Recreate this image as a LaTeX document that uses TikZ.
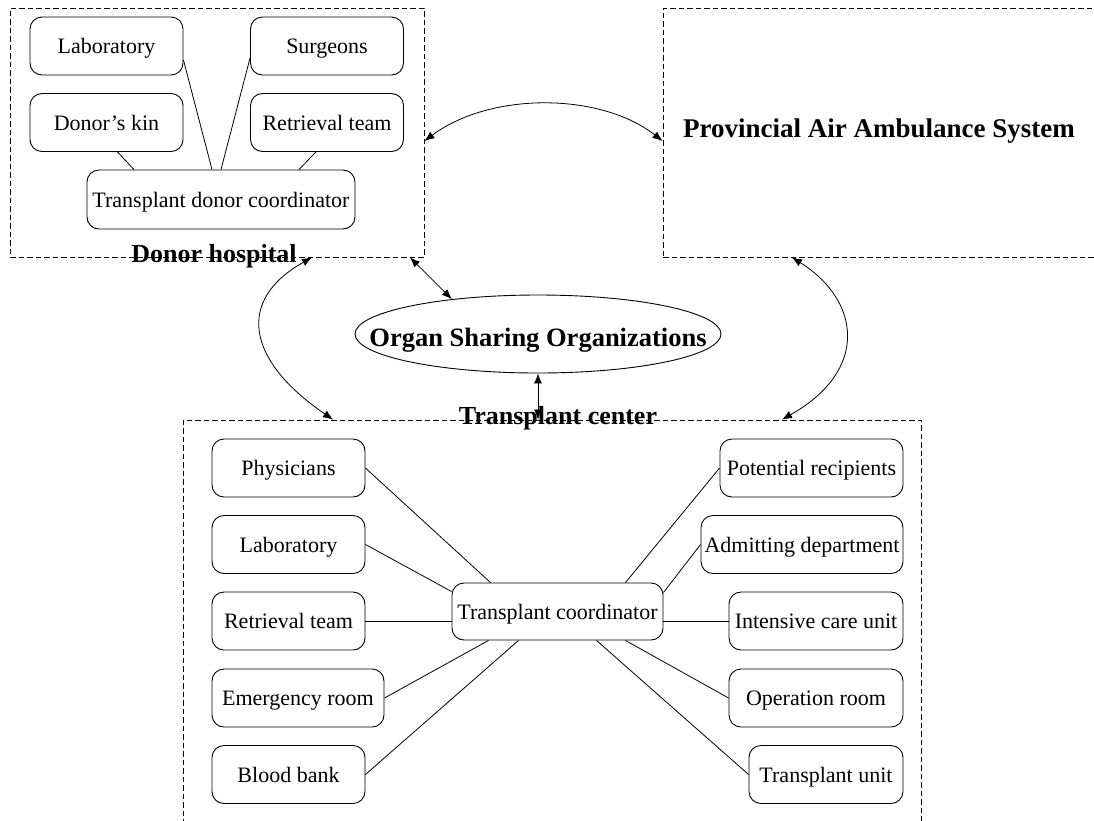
\documentclass[tikz,border=0pt]{standalone}
\usepackage{fontspec}
\setmainfont{Liberation Serif}
\usetikzlibrary{shapes.geometric,arrows.meta}
\begin{document}
\begin{tikzpicture}[x=1pt,y=-1pt,
  unit/.style={draw, line width=0.9pt, rounded corners=12pt, minimum width=153pt,
    minimum height=58pt, inner sep=1pt, text height=15pt, text depth=0pt,
    font=\fontsize{22}{25}\selectfont},
  group/.style={draw, line width=0.9pt, dash pattern=on 5.5pt off 3pt, inner sep=0pt},
  grouplabel/.style={inner sep=0pt, font=\bfseries\fontsize{26}{29}\selectfont},
  link/.style={line width=0.8pt},
  bothway/.style={line width=0.8pt, {Latex[length=10pt,width=8pt]}-{Latex[length=10pt,width=8pt]}},
]
\useasboundingbox (0,0) rectangle (1094,820);
\clip (0,0) rectangle (1094,820);

% Donor hospital
\node[group, minimum width=414pt, minimum height=249pt] (donor) at (217,132.5) {};
\node[grouplabel, anchor=base] (donorlbl) at (214,262) {Donor hospital};
\node[unit] (dlab) at (106.5,46) {Laboratory};
\node[unit] (dsurg) at (327,46) {Surgeons};
\node[unit] (dkin) at (106.5,122.5) {Donor’s kin};
\node[unit] (dret) at (327,122.5) {Retrieval team};
\node[unit, minimum width=268pt, minimum height=59pt] (tdc) at (221,199.5) {Transplant donor coordinator};

\draw[link] ([yshift=-14pt]dlab.east) -- ([xshift=-9pt]tdc.north);
\draw[link] ([yshift=-12pt]dsurg.west) -- (tdc.north);
\draw[link] ([xshift=11pt]dkin.south) -- ([xshift=-87pt]tdc.north);
\draw[link] ([xshift=-11pt]dret.south) -- ([xshift=78pt]tdc.north);

% Provincial Air Ambulance System
\node[group, minimum width=447pt, minimum height=249pt] (air) at (886.5,132.5) {};
\node[grouplabel, font=\bfseries\fontsize{27}{30}\selectfont, anchor=base] (airlbl) at (879,137) {Provincial Air Ambulance System};

% Organ Sharing Organizations
\node[draw, ellipse, line width=0.9pt, minimum width=366pt, minimum height=78pt, inner sep=0pt] (osc) at (538,334) {};
\node[grouplabel, font=\bfseries\fontsize{26.5}{30}\selectfont, anchor=base] (osclbl) at (538,346) {Organ Sharing Organizations};

% Transplant center
\node[group, minimum width=738pt, minimum height=420pt] (tcbox) at (552,630) {};
\node[grouplabel, anchor=base] (tclbl) at (558,424) {Transplant center};
\node[unit, minimum width=211pt, minimum height=57pt] (tc) at (557.5,611.5) {Transplant coordinator};

\node[unit] (phys) at (288.5,468) {Physicians};
\node[unit] (lab) at (288.5,544.5) {Laboratory};
\node[unit] (ret) at (288.5,621) {Retrieval team};
\node[unit, minimum width=172pt] (er) at (298,698) {Emergency room};
\node[unit] (blood) at (288.5,774.5) {Blood bank};

\node[unit, minimum width=183pt] (pot) at (811.5,468) {Potential recipients};
\node[unit, minimum width=202pt] (adm) at (802,544.5) {Admitting department};
\node[unit, minimum width=174pt] (icu) at (816,621) {Intensive care unit};
\node[unit, minimum width=174pt] (oper) at (816,698) {Operation room};
\node[unit, minimum width=154pt] (tunit) at (826,774.5) {Transplant unit};

\draw[link] (phys.east) -- ([xshift=-67pt]tc.north);
\draw[link] (lab.east) -- ([yshift=20pt]tc.west);
\draw[link] (ret.east) -- (ret.east -| tc.west);
\draw[link] (er.east) -- ([xshift=-69pt]tc.south);
\draw[link] (blood.east) -- ([xshift=-39pt]tc.south);

\draw[link] (pot.west) -- ([xshift=68pt]tc.north);
\draw[link] (adm.west) -- ([yshift=19pt]tc.east);
\draw[link] (icu.west) -- (icu.west -| tc.east);
\draw[link] (oper.west) -- ([xshift=68pt]tc.south);
\draw[link] (tunit.west) -- ([xshift=39pt]tc.south);

% Exchanges between the groups
\draw[bothway] ([yshift=-8.5pt]donor.east) .. controls (490,92) and (600,92) .. ([yshift=-8.5pt]air.west);
\draw[bothway] ([xshift=95pt]donor.south) .. controls (236,300) and (246,360) .. ([xshift=-219pt]tcbox.north);
\draw[bothway] ([xshift=-94.5pt]air.south) .. controls (860,300) and (870,370) .. ([xshift=230pt]tcbox.north);
\draw[bothway] ([xshift=193pt]donor.south) -- (osc.158);
\draw[bothway] (osc.south) -- (osc.south |- tcbox.north);
\end{tikzpicture}
\end{document}
